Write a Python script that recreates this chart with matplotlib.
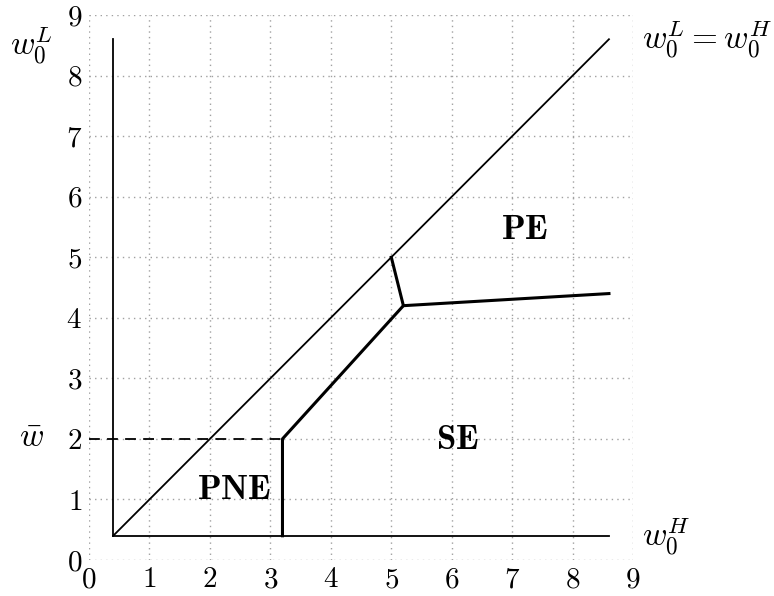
import matplotlib
matplotlib.use("Agg")
import matplotlib.pyplot as plt

plt.rcParams['mathtext.fontset'] = 'cm'
plt.rcParams['font.family'] = 'serif'
plt.rcParams['font.serif'] = ['cmr10', 'DejaVu Serif']
plt.rcParams['axes.formatter.use_mathtext'] = True

ticks = list(range(10))
lo, hi = 0.4, 8.6
# boundary between PNE and SE / SE and PE
bx = [3.2, 3.2, 5.2, 8.6]
by = [0.4, 2.0, 4.2, 4.4]
# boundary between SE and PE on the diagonal
px = [5.0, 5.2]
py = [5.0, 4.2]
wbar = 2.0

fig = plt.figure(figsize=(7.74, 5.96), dpi=100)
ax = fig.add_axes([0.115, 0.0604, 0.703, 0.9144])

ax.plot([lo, lo], [lo, hi], color='black', lw=1.3)
ax.plot([lo, hi], [lo, lo], color='black', lw=1.3)
ax.plot([lo, hi], [lo, hi], color='black', lw=1.3)
ax.plot(bx, by, color='black', lw=2.2)
ax.plot(px, py, color='black', lw=2.2)
ax.plot([0, bx[0]], [wbar, wbar], color='black', lw=1.3, ls=(0, (6, 4)))

ax.text(7.2, 5.45, r'$\mathbf{PE}$', fontsize=25, ha='center', va='center')
ax.text(6.1, 1.98, r'$\mathbf{SE}$', fontsize=25, ha='center', va='center')
ax.text(2.4, 1.15, r'$\mathbf{PNE}$', fontsize=25, ha='center', va='center')

ax.text(-0.95, 8.5, r'$w_0^L$', fontsize=24, ha='center', va='center')
ax.text(-0.95, wbar, r'$\bar{w}$', fontsize=24, ha='center', va='center')
ax.text(9.15, 8.6, r'$w_0^L = w_0^H$', fontsize=24, ha='left', va='center')
ax.text(9.15, 0.4, r'$w_0^H$', fontsize=24, ha='left', va='center')

ax.set_xlim(0, 9)
ax.set_ylim(0, 9)
ax.set_xticks(ticks)
ax.set_yticks(ticks)
ax.set_xticklabels([f'${t}$' for t in ticks], fontsize=21)
ax.set_yticklabels([f'${t}$' for t in ticks], fontsize=21)
ax.tick_params(length=0, pad=5)
for s in ax.spines.values():
    s.set_visible(False)
ax.grid(True, ls=(0, (1, 3)), color='#a0a0a0', lw=1)
ax.set_axisbelow(True)

fig.savefig('out.png', dpi=100)
